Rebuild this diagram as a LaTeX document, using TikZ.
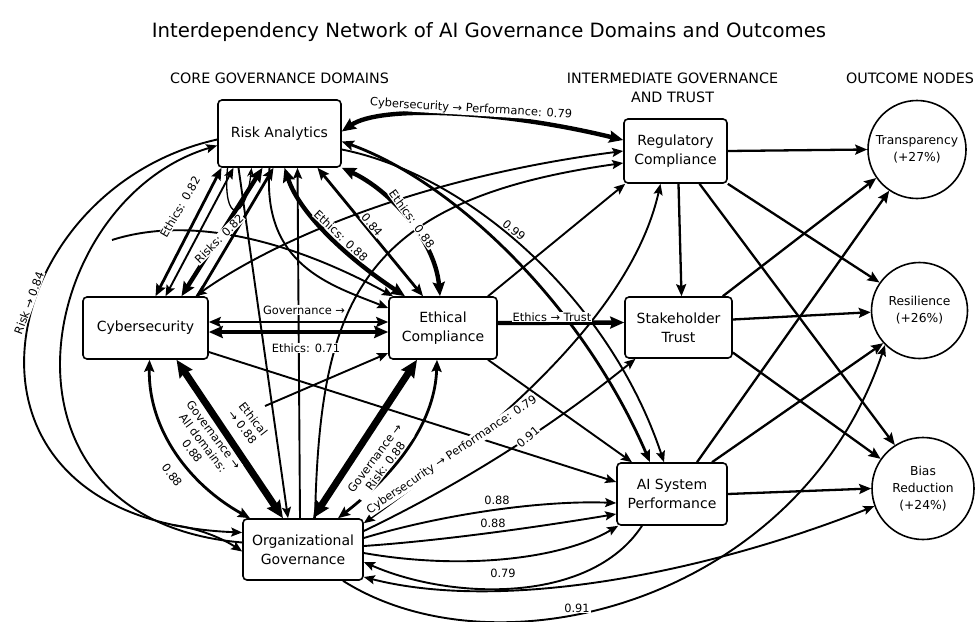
\documentclass[tikz,border=0pt]{standalone}
\usepackage{fontspec}
\setmainfont{DejaVu Sans}
\usetikzlibrary{arrows.meta}
\begin{document}
\begin{tikzpicture}[x=1pt,y=-1pt,
  box/.style={draw, line width=1.6pt, rounded corners=4pt, fill=white, align=center,
    font=\fontsize{14}{19}\selectfont, inner sep=0pt},
  outc/.style={draw, circle, line width=1.6pt, fill=white, align=center,
    font=\fontsize{12.3}{17}\selectfont, inner sep=0pt},
  hdr/.style={font=\fontsize{14.3}{19}\selectfont, align=center},
  lab/.style={fill=white, inner sep=0.8pt, font=\fontsize{11.4}{13.5}\selectfont, align=center},
  ea/.style={line width=1.9pt, -{Stealth[length=11pt,width=9pt,inset=2pt]}},
  eb/.style={line width=1.9pt, {Stealth[length=11pt,width=9pt,inset=2pt]}-{Stealth[length=11pt,width=9pt,inset=2pt]}},
  oa/.style={line width=2.3pt, -{Stealth[length=12pt,width=10pt,inset=2pt]}},
  ma/.style={line width=2.8pt, -{Stealth[length=12pt,width=10pt,inset=2pt]}},
  mb/.style={line width=2.8pt, {Stealth[length=12pt,width=10pt,inset=2pt]}-{Stealth[length=12pt,width=10pt,inset=2pt]}},
  ta/.style={line width=4.4pt, -{Stealth[length=14pt,width=12pt,inset=2pt]}},
  tb/.style={line width=4.4pt, {Stealth[length=14pt,width=12pt,inset=2pt]}-{Stealth[length=14pt,width=12pt,inset=2pt]}},
  xb/.style={line width=7pt, {Stealth[length=17pt,width=15pt,inset=2pt]}-{Stealth[length=17pt,width=15pt,inset=2pt]}},
]
\useasboundingbox (0,0) rectangle (976,621);

% title and column headers
\node[font=\fontsize{19.7}{23}\selectfont] (title) at (489,32)
  {Interdependency Network of AI Governance Domains and Outcomes};
\node[hdr] (h1) at (279.5,78) {CORE GOVERNANCE DOMAINS};
\node[hdr] (h2) at (672.5,87.5) {INTERMEDIATE GOVERNANCE\\AND TRUST};
\node[hdr] (h3) at (910,78) {OUTCOME NODES};

% core domains
\node[box, minimum width=123pt, minimum height=67pt] (ra) at (279.5,133.5) {Risk Analytics};
\node[box, minimum width=125pt, minimum height=62pt] (cy) at (145.5,328) {Cybersecurity};
\node[box, minimum width=108pt, minimum height=62pt] (ec) at (443,328) {Ethical\\Compliance};
\node[box, minimum width=120pt, minimum height=61pt] (og) at (303,549.5) {Organizational\\Governance};
% intermediate layer
\node[box, minimum width=103pt, minimum height=64pt] (rc) at (675.5,151) {Regulatory\\Compliance};
\node[box, minimum width=107pt, minimum height=61pt] (st) at (678.5,327.5) {Stakeholder\\Trust};
\node[box, minimum width=110pt, minimum height=62pt] (ai) at (672,494) {AI System\\Performance};
% outcomes
\node[outc, minimum size=98pt] (tr) at (917,149.5) {Transparency\\(+27\%)};
\node[outc, minimum size=96pt] (re) at (919.5,310.5) {Resilience\\(+26\%)};
\node[outc, minimum size=102pt] (bi) at (923,488.5) {Bias\\Reduction\\(+24\%)};

% loose ends of links that run under labels
\coordinate (s1) at (112,240);
\coordinate (s2) at (265,406);
\coordinate (s3) at (172,525);

% risk analytics <-> cybersecurity
\draw[mb] ([xshift=-58pt]ra.south) -- ([xshift=10pt]cy.north);
\draw[eb] ([xshift=-46pt]ra.south) -- ([xshift=20pt]cy.north);
\draw[tb] ([xshift=-17pt]ra.south) -- ([xshift=36pt]cy.north);
\draw[ma] ([xshift=52pt]cy.north) -- ([xshift=-6pt]ra.south);
\draw[line width=1.3pt, -{Stealth[length=9pt,width=7pt]}] ([xshift=-52pt]ra.south)
  .. controls (222,225) and (246,222) .. ([xshift=-28pt]ra.south);

% risk analytics <-> organizational governance
\draw[ea] ([xshift=-41pt]ra.south) -- ([xshift=-15pt]og.north);
\draw[ea] ([xshift=-3pt]og.north) -- ([xshift=18pt]ra.south);

% risk analytics <-> ethical compliance
\draw[tb] ([xshift=5pt]ra.south) .. controls (300,215) and (350,260) .. ([xshift=-38pt]ec.north);
\draw[mb] ([xshift=38pt]ra.south) -- ([xshift=-20pt]ec.north);
\draw[tb] (ra.south east) .. controls (390,190) and (435,240) .. ([xshift=-3pt]ec.north);
\draw[ea] ([xshift=-10pt]ra.south) .. controls (262,265) and (330,285) .. ([yshift=20pt]ec.west);

% cybersecurity <-> ethical compliance
\draw[mb] ([yshift=6pt]cy.east) -- ([yshift=6pt]ec.west);
\draw[tb] ([yshift=-4pt]cy.east) -- ([yshift=-4pt]ec.west);

% cybersecurity <-> organizational governance
\draw[xb] ([xshift=31pt]cy.south) -- ([xshift=-20pt]og.north);
\draw[mb] ([xshift=4pt]cy.south) .. controls (148,430) and (190,485) .. ([xshift=-53pt]og.north);

% ethical compliance <-> organizational governance
\draw[xb] ([xshift=-26pt]ec.south) -- ([xshift=10pt]og.north);
\draw[mb] ([xshift=-6pt]ec.south) .. controls (435,420) and (400,470) .. ([xshift=35pt]og.north);

% links entering from under labels
\draw[ea] (s1) .. controls (190,215) and (290,240) .. ([xshift=-50pt]ec.north);
\draw[ea] (s2) -- ([yshift=-25pt]ec.west);
\draw[ea] (s3) .. controls (200,528) and (225,540) .. ([yshift=-2pt]og.west);

% long arcs on the left
\draw[ea] ([yshift=-6pt]ra.west) .. controls (-10,190) and (-75,520) .. ([yshift=17pt]og.west);
\draw[ea] ([yshift=7pt]og.west) .. controls (-25,520) and (35,200) .. ([yshift=-12pt]ra.west);

% core domains -> regulatory compliance
\draw[tb] ([yshift=2pt]ra.east) .. controls (380,105) and (500,110) .. ([yshift=11pt]rc.west);
\draw[eb] ([xshift=50pt]cy.north) .. controls (260,250) and (400,180) .. (rc.west);
\draw[ea] ([xshift=12pt]og.north) .. controls (320,300) and (360,200) .. ([yshift=-12pt]rc.west);
\draw[ea] ([xshift=45pt]ec.north) -- ([xshift=2pt]rc.south west);
\draw[eb] ([yshift=-5pt]og.north east) .. controls (480,440) and (630,320) .. ([xshift=-15pt]rc.south);

% core domains -> stakeholder trust
\draw[ta] ([yshift=5pt]ec.east) -- ([yshift=5pt]st.west);
\draw[ea] ([yshift=18.5pt]og.east) .. controls (470,480) and (560,420) .. ([xshift=-43pt]st.south);

% core domains -> AI system performance
\draw[mb] ([yshift=-8pt]ra.east) .. controls (450,180) and (580,300) .. ([xshift=-22pt]ai.north);
\draw[ea] ([yshift=-16pt]ra.east) .. controls (470,175) and (610,300) .. ([xshift=-8pt]ai.north);
\draw[ea] ([yshift=-24pt]cy.east) -- ([yshift=12pt]ai.west);
\draw[ea] ([xshift=45pt]ec.south) -- ([xshift=-40pt]ai.north);
\draw[ea] ([yshift=11.5pt]og.east) .. controls (440,515) and (540,500) .. ([yshift=-9pt]ai.west);
\draw[ea] ([yshift=3.5pt]og.east) .. controls (450,540) and (550,525) .. ([yshift=-20pt]ai.west);
\draw[ea] ([yshift=-3.5pt]og.east) .. controls (460,570) and (560,560) .. ([xshift=2pt]ai.south west);
\draw[ea] ([xshift=-30pt]ai.south) .. controls (590,605) and (450,600) .. ([yshift=-12.5pt]og.east);

% organizational governance -> outcomes
\draw[eb] ([yshift=-27.5pt]og.east) .. controls (500,612) and (700,575) .. (bi.200);
\draw[ea] ([xshift=40pt]og.south) .. controls (500,680) and (800,600) .. (re.225);

% intermediate layer -> outcomes
\draw[oa] (rc.east) -- (tr.west);
\draw[oa] ([xshift=3pt]rc.south) -- ([xshift=3pt]st.north);
\draw[oa] (rc.south east) -- (re.145);
\draw[oa] ([xshift=24pt]rc.south) -- (bi.123);
\draw[oa] ([xshift=-10pt]st.north east) -- (tr.215);
\draw[oa] ([yshift=8pt]st.east) -- (re.182);
\draw[oa] ([yshift=-25pt]st.east) -- (bi.145);
\draw[oa] ([xshift=25pt]ai.north) -- (tr.236);
\draw[oa] ([xshift=40pt]ai.north) -- (re.222);
\draw[oa] (ai.east) -- (bi.west);

% link labels
\node[lab, rotate=-3.5] (l1) at (471,109) {Cybersecurity → Performance: 0.79};
\node[lab, rotate=60] (l2) at (180,207) {Ethics: 0.82};
\node[lab, rotate=45] (l3) at (219,239) {Risks: 0.82};
\node[lab, rotate=-43] (l4) at (341,236) {Ethics: 0.88};
\node[lab, rotate=-50] (l5) at (372,225) {0.84};
\node[lab, rotate=-54] (l6) at (412,219) {Ethics: 0.88};
\node[lab, rotate=-40] (l7) at (514,230) {0.99};
\node[lab] (l8) at (304,310) {Governance →};
\node[lab] (l9) at (306,348) {Ethics: 0.71};
\node[lab, rotate=-52] (l10) at (248,423) {Ethical\\→ 0.88};
\node[lab, rotate=-53] (l11) at (203,443) {Governance →\\All domains:\\0.88};
\node[lab, rotate=-53] (l12) at (172,475) {0.88};
\node[lab, rotate=53] (l13) at (380,462) {Governance →\\Risk: 0.88};
\node[lab, rotate=34] (l14) at (452,455) {Cybersecurity → Performance: 0.79};
\node[lab, rotate=40] (l15) at (528,437) {0.91};
\node[lab] (l16) at (552,317) {Ethics → Trust};
\node[lab] (l17) at (497,500) {0.88};
\node[lab] (l18) at (493,523) {0.88};
\node[lab] (l19) at (503,573) {0.79};
\node[lab] (l20) at (577,608) {0.91};
\node[lab, rotate=70] (l21) at (29,303) {Risk → 0.84};
\end{tikzpicture}
\end{document}
